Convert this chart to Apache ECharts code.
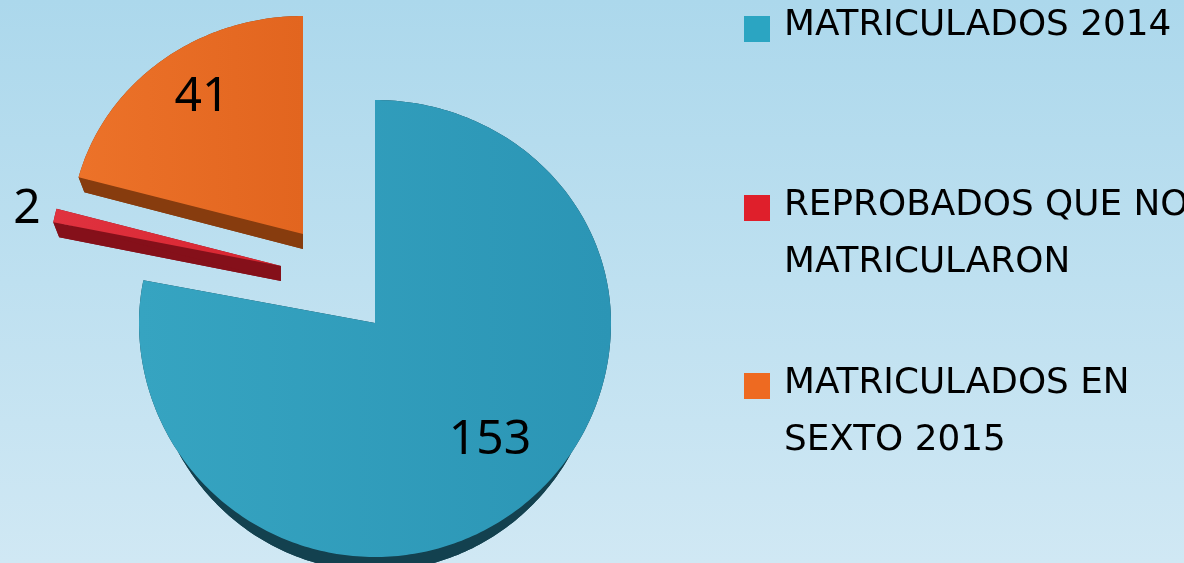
<!DOCTYPE html>
<html>
<head>
<meta charset="utf-8">
<title>Matriculados</title>
<script src="https://cdn.jsdelivr.net/npm/echarts@6/dist/echarts.min.js"></script>
<style>
  html, body { margin: 0; padding: 0; }
  #chart { width: 1184px; height: 563px; }
</style>
</head>
<body>
<div id="chart"></div>
<script>
// datos
const categories = ['MATRICULADOS 2014', 'REPROBADOS QUE NO\nMATRICULARON', 'MATRICULADOS EN\nSEXTO 2015'];
const values = [153, 2, 41];

// estilo de cada porcion
const legendColors = ['#2ba5c2', '#df1f2b', '#ee6a21'];
const topColors = [['#36a4c1', '#2b95b5'], ['#e0323f', '#d82530'], ['#ec7229', '#e2651f']];
const sideColors = ['#13414f', '#85101a', '#873c0e'];

// geometria de cada porcion (centro del arco, radios, vertice y etiqueta)
const slices = [
  { cx: 375, cy: 323, rx: 236, ry: 223, ryLow: 234, ax: 375, ay: 323, depth: 14, shrink: 10, lx: 490, ly: 440 },
  { cx: 281, cy: 264, rx: 232, ry: 218, ryLow: 218, ax: 281, ay: 266, depth: 15, shrink: 6, lx: 27, ly: 209 },
  { cx: 303, cy: 232, rx: 232, ry: 216, ryLow: 216, ax: 303, ay: 234, depth: 15, shrink: 6, lx: 202, ly: 97 }
];
const legendTops = [29, 208, 386];

const total = values.reduce((a, b) => a + b, 0);

function startAngle(index) {
  let sum = 0;
  for (let i = 0; i < index; i++) sum += values[i];
  return sum / total * 360;
}

function arcPoints(s, from, to, shiftY, shrink) {
  const pts = [];
  const steps = Math.max(2, Math.ceil(to - from));
  for (let i = 0; i <= steps; i++) {
    const a = (from + (to - from) * i / steps) * Math.PI / 180;
    const cos = Math.cos(a);
    const ry = cos > 0 ? s.ry : s.ryLow;
    pts.push([s.cx + (s.rx - shrink) * Math.sin(a), s.cy + shiftY - ry * cos]);
  }
  return pts;
}

function renderSlice(index) {
  return function (params, api) {
    const s = slices[index];
    const from = startAngle(index);
    const to = from + api.value(0) / total * 360;
    const top = arcPoints(s, from, to, 0, 0);
    const low = arcPoints(s, from, to, s.depth, s.shrink);
    const apex = [s.ax, s.ay];
    const apexLow = [s.ax, s.ay + s.depth];
    const side = { fill: sideColors[index] };
    return {
      type: 'group',
      children: [
        // cara lateral: fondo, banda del arco y los dos cortes
        { type: 'polygon', shape: { points: [apexLow].concat(low) }, style: side },
        { type: 'polygon', shape: { points: top.concat(low.slice().reverse()) }, style: side },
        { type: 'polygon', shape: { points: [apex, top[0], low[0], apexLow] }, style: side },
        { type: 'polygon', shape: { points: [apex, top[top.length - 1], low[low.length - 1], apexLow] }, style: side },
        {
          type: 'polygon',
          shape: { points: [apex].concat(top) },
          style: {
            fill: new echarts.graphic.LinearGradient(0, 0, 1, 0, [
              { offset: 0, color: topColors[index][0] },
              { offset: 1, color: topColors[index][1] }
            ])
          }
        },
        {
          type: 'text',
          x: s.lx,
          y: s.ly,
          style: {
            text: String(api.value(0)),
            fill: '#000',
            font: '48px "Noto Sans"',
            align: 'center',
            verticalAlign: 'middle'
          }
        }
      ]
    };
  };
}

const series = categories.map((name, i) => ({
  type: 'custom',
  name: name,
  coordinateSystem: 'none',
  silent: true,
  itemStyle: { color: legendColors[i] },
  data: [[values[i]]],
  renderItem: renderSlice(i)
}));

// una leyenda por categoria para colocar el cuadro en la primera linea
const legends = categories.map((name, i) => {
  const lines = name.split('\n').length;
  const bottomPad = lines === 1 ? 6 : 0;
  const topPad = lines === 1 ? 0 : 53;
  const blockHeight = lines * 57 + topPad + bottomPad;
  return {
    data: [name],
    orient: 'vertical',
    left: 744,
    top: legendTops[i] - blockHeight / 2,
    padding: 0,
    icon: 'rect',
    itemWidth: 26,
    itemHeight: 26,
    selectedMode: false,
    textStyle: {
      color: '#000',
      fontFamily: 'DejaVu Sans',
      fontSize: 35.8,
      lineHeight: 57,
      padding: [topPad, 0, bottomPad, 9],
      rich: { a: {} } // con rich el padding vertical si se aplica
    }
  };
});

const chart = echarts.init(document.getElementById('chart'));
chart.setOption({
  animation: false,
  backgroundColor: new echarts.graphic.LinearGradient(0, 0, 0, 1, [
    { offset: 0, color: '#acd8ec' },
    { offset: 1, color: '#d0e8f4' }
  ]),
  legend: legends,
  series: series
});
</script>
</body>
</html>
